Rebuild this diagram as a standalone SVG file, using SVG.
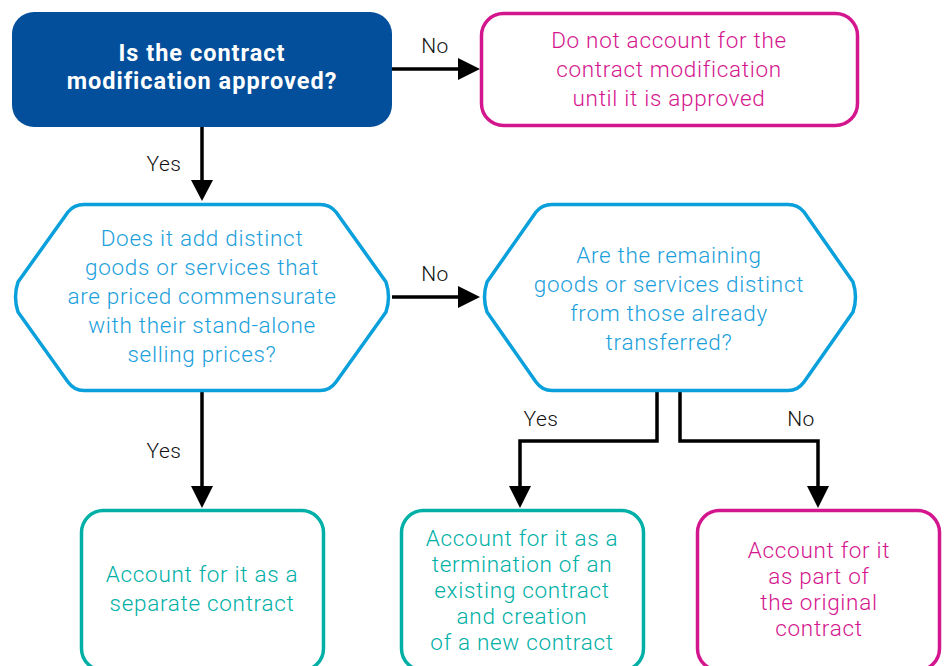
<svg xmlns="http://www.w3.org/2000/svg" width="947" height="666" viewBox="0 0 947 666">
<defs>
<style>
.t{font-family:Roboto,"Liberation Sans",Arial,sans-serif;font-size:22.5px;font-weight:300;letter-spacing:0.7px;text-anchor:middle}
.b{font-weight:700;font-size:23.5px;letter-spacing:1px}
.q{fill:#1ba0dc}
.pk{fill:#d4168e}
.tl{fill:#00b0a6}
.lb{font-family:Roboto,"Liberation Sans",Arial,sans-serif;font-size:21px;font-weight:300;letter-spacing:0.5px;fill:#111;text-anchor:middle}
.c{fill:none;stroke:#000;stroke-width:3.5}
.hex{fill:#fff;stroke:#0aa0dc;stroke-width:3.5;stroke-linejoin:round}
</style>
</defs>
<rect width="947" height="666" fill="#fff"/>
<g id="connectors">
<path class="c" d="M392,69 H462"/>
<path d="M458,58 L480,69 L458,80 Z"/>
<path class="c" d="M202,127 V184"/>
<path d="M191,180 L202,201 L213,180 Z"/>
<path class="c" d="M392,297 H462"/>
<path d="M458,286 L480,297 L458,308 Z"/>
<path class="c" d="M202,392 V490"/>
<path d="M191,486 L202,508 L213,486 Z"/>
<path class="c" d="M657,392 V441 H520 V490"/>
<path d="M509,486 L520,508 L531,486 Z"/>
<path class="c" d="M680,392 V441 H818 V490"/>
<path d="M807,486 L818,508 L829,486 Z"/>
<text class="lb" x="435" y="53">No</text>
<text class="lb" x="164" y="171">Yes</text>
<text class="lb" x="435" y="281">No</text>
<text class="lb" x="164" y="458">Yes</text>
<text class="lb" x="541" y="426">Yes</text>
<text class="lb" x="801" y="426">No</text>
</g>
<g id="approved">
<rect x="12" y="12" width="380" height="115" rx="22" fill="#034f9b"/>
<text class="t b" x="202" y="61" fill="#fff">Is the contract</text>
<text class="t b" x="202" y="89" fill="#fff">modification approved?</text>
</g>
<g id="not-approved">
<rect x="481.5" y="13.5" width="376" height="112" rx="22" fill="#fff" stroke="#d4168e" stroke-width="3.5"/>
<text class="t pk" x="669" y="48">Do not account for the</text>
<text class="t pk" x="669" y="77">contract modification</text>
<text class="t pk" x="669" y="106">until it is approved</text>
</g>
<g id="distinct-goods">
<path class="hex" d="M84,204.5 H320 Q330,204.5 336,212 L386,282 Q391,297 386,312 L336,382 Q330,390.5 320,390.5 H84 Q74,390.5 68,382 L18,312 Q13,297 18,282 L68,212 Q74,204.5 84,204.5 Z"/>
<text class="t q" x="202" y="246">Does it add distinct</text>
<text class="t q" x="202" y="275">goods or services that</text>
<text class="t q" x="202" y="304">are priced commensurate</text>
<text class="t q" x="202" y="333">with their stand-alone</text>
<text class="t q" x="202" y="362">selling prices?</text>
</g>
<g id="remaining-distinct">
<path class="hex" d="M552,204.5 H788 Q798,204.5 804,212 L853,282 Q858,297 853,312 L804,382 Q798,390.5 788,390.5 H552 Q542,390.5 536,382 L487,312 Q482,297 487,282 L536,212 Q542,204.5 552,204.5 Z"/>
<text class="t q" x="669" y="263">Are the remaining</text>
<text class="t q" x="669" y="292">goods or services distinct</text>
<text class="t q" x="669" y="321">from those already</text>
<text class="t q" x="669" y="350">transferred?</text>
</g>
<g id="separate">
<rect x="81.5" y="510.5" width="242" height="160" rx="22" fill="#fff" stroke="#00b0a6" stroke-width="3.5"/>
<text class="t tl" x="202" y="582">Account for it as a</text>
<text class="t tl" x="202" y="611">separate contract</text>
</g>
<g id="termination">
<rect x="401.5" y="510.5" width="242" height="160" rx="22" fill="#fff" stroke="#00b0a6" stroke-width="3.5"/>
<text class="t tl" x="522" y="546">Account for it as a</text>
<text class="t tl" x="522" y="572">termination of an</text>
<text class="t tl" x="522" y="598">existing contract</text>
<text class="t tl" x="522" y="624">and creation</text>
<text class="t tl" x="522" y="650">of a new contract</text>
</g>
<g id="original">
<rect x="697.5" y="510.5" width="242" height="160" rx="22" fill="#fff" stroke="#d4168e" stroke-width="3.5"/>
<text class="t pk" x="819" y="558">Account for it</text>
<text class="t pk" x="819" y="584">as part of</text>
<text class="t pk" x="819" y="610">the original</text>
<text class="t pk" x="819" y="636">contract</text>
</g>
</svg>
